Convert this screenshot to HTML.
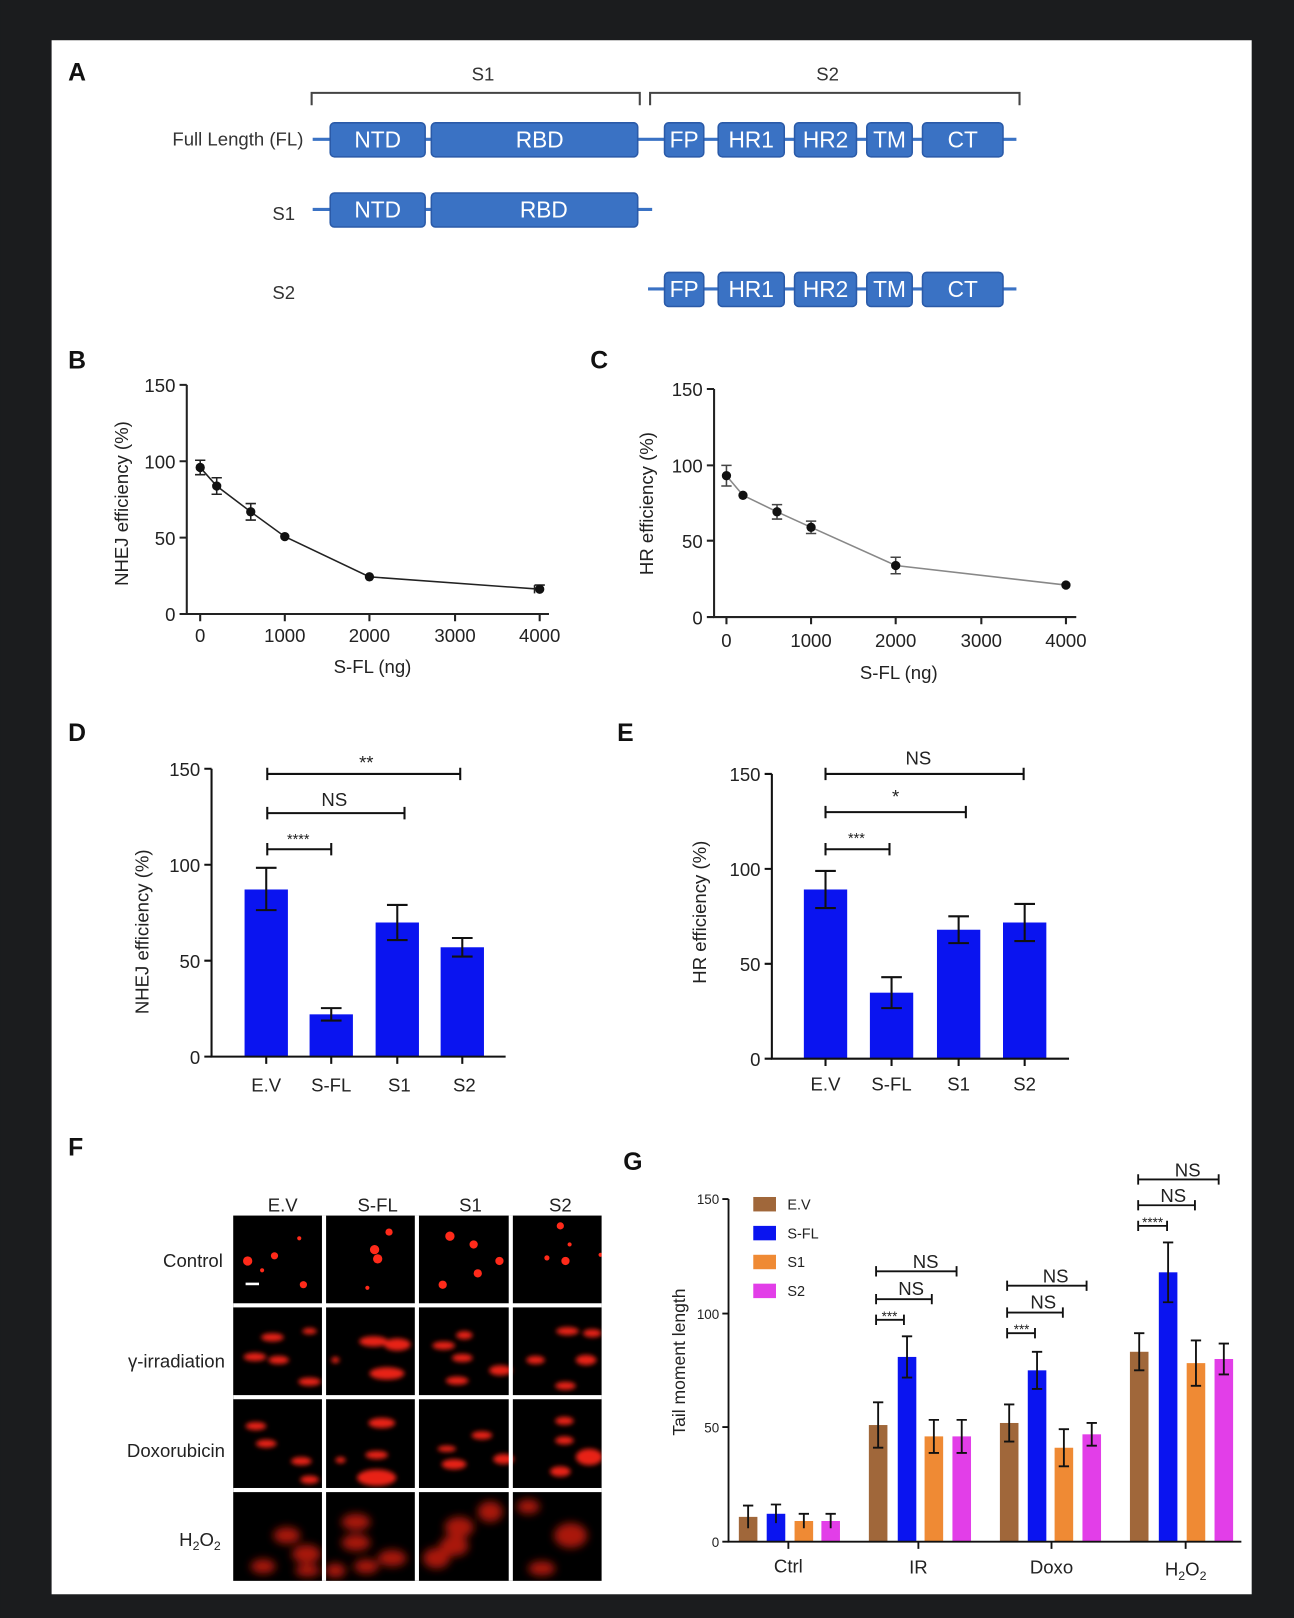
<!DOCTYPE html>
<html><head><meta charset="utf-8"><style>
html,body{margin:0;padding:0;background:#1b1c1e;}
svg{display:block;font-family:"Liberation Sans",Arial,sans-serif;}
</style></head><body>
<svg width="1294" height="1618" viewBox="0 0 1254 1568" xmlns="http://www.w3.org/2000/svg">
<defs>
<filter id="bl" x="-50%" y="-50%" width="200%" height="200%"><feGaussianBlur stdDeviation="2.2"/></filter>
<filter id="bl2" x="-50%" y="-50%" width="200%" height="200%"><feGaussianBlur stdDeviation="4"/></filter>
<clipPath id="gc"><rect x="226" y="1178" width="357" height="354"/></clipPath>
</defs>
<rect x="0" y="0" width="1254" height="1568" fill="#1b1c1e"/>
<rect x="50" y="39" width="1163" height="1506" fill="#fff"/>

<g font-weight="bold" font-size="24" fill="#111">
<text x="66" y="78">A</text><text x="66" y="357">B</text><text x="572" y="357">C</text>
<text x="66" y="718">D</text><text x="598" y="718">E</text><text x="66" y="1120">F</text><text x="604" y="1134">G</text>
</g>

<!-- Panel A -->
<g fill="none" stroke="#444" stroke-width="2">
<path d="M302 102 V90 H620 V102"/><path d="M630 102 V90 H988 V102"/>
</g>
<g font-size="18" fill="#333" text-anchor="middle"><text x="468" y="78">S1</text><text x="802" y="78">S2</text></g>
<g font-size="18" fill="#333" text-anchor="end">
<text x="294" y="141">Full Length (FL)</text><text x="286" y="213">S1</text><text x="286" y="290">S2</text></g>
<g stroke="#3a72c4" stroke-width="3"><line x1="303" y1="135" x2="985" y2="135"/><line x1="303" y1="203" x2="632" y2="203"/><line x1="628" y1="280" x2="985" y2="280"/></g>
<g fill="#3a72c4" stroke="#2a5aa8" stroke-width="1.5">
<rect x="320" y="119" width="92" height="33" rx="4"/><rect x="418" y="119" width="200" height="33" rx="4"/>
<rect x="644" y="119" width="38" height="33" rx="4"/><rect x="696" y="119" width="64" height="33" rx="4"/>
<rect x="770" y="119" width="60" height="33" rx="4"/><rect x="840" y="119" width="44" height="33" rx="4"/><rect x="894" y="119" width="78" height="33" rx="4"/>
<rect x="320" y="187" width="92" height="33" rx="4"/><rect x="418" y="187" width="200" height="33" rx="4"/>
<rect x="644" y="264" width="38" height="33" rx="4"/><rect x="696" y="264" width="64" height="33" rx="4"/>
<rect x="770" y="264" width="60" height="33" rx="4"/><rect x="840" y="264" width="44" height="33" rx="4"/><rect x="894" y="264" width="78" height="33" rx="4"/>
</g>
<g font-size="22" fill="#fff" text-anchor="middle">
<text x="366" y="143">NTD</text><text x="523" y="143">RBD</text><text x="663" y="143">FP</text><text x="728" y="143">HR1</text><text x="800" y="143">HR2</text><text x="862" y="143">TM</text><text x="933" y="143">CT</text>
<text x="366" y="211">NTD</text><text x="527" y="211">RBD</text>
<text x="663" y="288">FP</text><text x="728" y="288">HR1</text><text x="800" y="288">HR2</text><text x="862" y="288">TM</text><text x="933" y="288">CT</text>
</g>

<!-- Panel B -->
<g stroke="#222" stroke-width="2" fill="none">
<path d="M181 373 V595 H532"/>
<path d="M174 373H181M174 447H181M174 521H181M174 595H181"/>
<path d="M194 595V602M276 595V602M358 595V602M441 595V602M523 595V602"/>
</g>
<g font-size="18" fill="#222" text-anchor="end"><text x="170" y="380">150</text><text x="170" y="454">100</text><text x="170" y="528">50</text><text x="170" y="602">0</text></g>
<g font-size="18" fill="#222" text-anchor="middle"><text x="194" y="622">0</text><text x="276" y="622">1000</text><text x="358" y="622">2000</text><text x="441" y="622">3000</text><text x="523" y="622">4000</text>
<text x="361" y="652">S-FL (ng)</text></g>
<text transform="translate(124,488) rotate(-90)" font-size="18" fill="#222" text-anchor="middle">NHEJ efficiency (%)</text>
<polyline points="194,453 210,471 243,496 276,520 358,559 523,571" fill="none" stroke="#222" stroke-width="1.5"/>
<g stroke="#222" stroke-width="1.5"><path d="M194 446V460M189 446H199M189 460H199M210 463V479M205 463H215M205 479H215M243 488V504M238 488H248M238 504H248M358 556V562M518 567V575M528 567H518"/></g>
<g fill="#111"><circle cx="194" cy="453" r="4.5"/><circle cx="210" cy="471" r="4.5"/><circle cx="243" cy="496" r="4.5"/><circle cx="276" cy="520" r="4.5"/><circle cx="358" cy="559" r="4.5"/><circle cx="523" cy="571" r="4.5"/></g>

<!-- Panel C -->
<g stroke="#222" stroke-width="2" fill="none">
<path d="M692 377 V598 H1043"/>
<path d="M685 377H692M685 451H692M685 524H692M685 598H692"/>
<path d="M704 598V605M786 598V605M868 598V605M951 598V605M1033 598V605"/>
</g>
<g font-size="18" fill="#222" text-anchor="end"><text x="681" y="384">150</text><text x="681" y="458">100</text><text x="681" y="531">50</text><text x="681" y="605">0</text></g>
<g font-size="18" fill="#222" text-anchor="middle"><text x="704" y="627">0</text><text x="786" y="627">1000</text><text x="868" y="627">2000</text><text x="951" y="627">3000</text><text x="1033" y="627">4000</text>
<text x="871" y="658">S-FL (ng)</text></g>
<text transform="translate(633,488) rotate(-90)" font-size="18" fill="#222" text-anchor="middle">HR efficiency (%)</text>
<polyline points="704,461 720,480 753,496 786,511 868,548 1033,567" fill="none" stroke="#888" stroke-width="1.5"/>
<g stroke="#444" stroke-width="1.5"><path d="M704 451V471M699 451H709M699 471H709M753 489V503M748 489H758M748 503H758M786 505V517M781 505H791M781 517H791M868 540V556M863 540H873M863 556H873"/></g>
<g fill="#111"><circle cx="704" cy="461" r="4.5"/><circle cx="720" cy="480" r="4.5"/><circle cx="753" cy="496" r="4.5"/><circle cx="786" cy="511" r="4.5"/><circle cx="868" cy="548" r="4.5"/><circle cx="1033" cy="567" r="4.5"/></g>

<!-- Panel D -->
<g fill="#0a14f0"><rect x="237" y="862" width="42" height="162"/><rect x="300" y="983" width="42" height="41"/><rect x="364" y="894" width="42" height="130"/><rect x="427" y="918" width="42" height="106"/></g>
<g stroke="#111" stroke-width="2" fill="none">
<path d="M205 745 V1024 H490"/>
<path d="M198 745H205M198 838H205M198 931H205M198 1024H205"/>
<path d="M258 1024V1031M321 1024V1031M385 1024V1031M448 1024V1031"/>
<path d="M258 841V882M248 841H268M248 882H268M321 977V989M311 977H331M311 989H331M385 877V911M375 877H395M375 911H395M448 909V927M438 909H458M438 927H458"/>
<path d="M259 744V756M259 750H446M446 744V756M259 782V794M259 788H392M392 782V794M259 817V829M259 823H321M321 817V829"/>
</g>
<g font-size="18" fill="#222" text-anchor="end"><text x="194" y="752">150</text><text x="194" y="845">100</text><text x="194" y="938">50</text><text x="194" y="1031">0</text></g>
<g font-size="18" fill="#222" text-anchor="middle"><text x="258" y="1058">E.V</text><text x="321" y="1058">S-FL</text><text x="387" y="1058">S1</text><text x="450" y="1058">S2</text>
<text x="355" y="745">**</text><text x="324" y="781">NS</text><text x="289" y="818" font-size="14">****</text></g>
<text transform="translate(144,903) rotate(-90)" font-size="18" fill="#222" text-anchor="middle">NHEJ efficiency (%)</text>

<!-- Panel E -->
<g fill="#0a14f0"><rect x="779" y="862" width="42" height="164"/><rect x="843" y="962" width="42" height="64"/><rect x="908" y="901" width="42" height="125"/><rect x="972" y="894" width="42" height="132"/></g>
<g stroke="#111" stroke-width="2" fill="none">
<path d="M748 750 V1026 H1036"/>
<path d="M741 750H748M741 842H748M741 934H748M741 1026H748"/>
<path d="M800 1026V1033M864 1026V1033M929 1026V1033M993 1026V1033"/>
<path d="M800 844V880M790 844H810M790 880H810M864 947V977M854 947H874M854 977H874M929 888V914M919 888H939M919 914H939M993 876V912M983 876H1003M983 912H1003"/>
<path d="M800 744V756M800 750H992M992 744V756M800 781V793M800 787H936M936 781V793M800 817V829M800 823H862M862 817V829"/>
</g>
<g font-size="18" fill="#222" text-anchor="end"><text x="737" y="757">150</text><text x="737" y="849">100</text><text x="737" y="941">50</text><text x="737" y="1033">0</text></g>
<g font-size="18" fill="#222" text-anchor="middle"><text x="800" y="1057">E.V</text><text x="864" y="1057">S-FL</text><text x="929" y="1057">S1</text><text x="993" y="1057">S2</text>
<text x="890" y="741">NS</text><text x="868" y="778">*</text><text x="830" y="817" font-size="14">***</text></g>
<text transform="translate(684,884) rotate(-90)" font-size="18" fill="#222" text-anchor="middle">HR efficiency (%)</text>

<!-- Panel F -->
<g font-size="18" fill="#222" text-anchor="middle"><text x="274" y="1174">E.V</text><text x="366" y="1174">S-FL</text><text x="456" y="1174">S1</text><text x="543" y="1174">S2</text></g>
<g font-size="18" fill="#222" text-anchor="end"><text x="216" y="1228">Control</text><text x="218" y="1325">γ-irradiation</text><text x="218" y="1412">Doxorubicin</text><text x="214" y="1498">H<tspan font-size="12" dy="4">2</tspan><tspan dy="-4">O</tspan><tspan font-size="12" dy="4">2</tspan></text></g>
<rect x="226" y="1178" width="357" height="354" fill="#000"/>
<g clip-path="url(#gc)">
<g fill="#ff2a1a">
<circle cx="240" cy="1222" r="4.5"/><circle cx="266" cy="1217" r="3.5"/><circle cx="294" cy="1245" r="3.5"/><circle cx="290" cy="1200" r="2"/><circle cx="254" cy="1231" r="2"/>
<circle cx="363" cy="1211" r="4.5"/><circle cx="366" cy="1220" r="4.5"/><circle cx="377" cy="1194" r="3.5"/><circle cx="356" cy="1248" r="2"/>
<circle cx="436" cy="1198" r="4.5"/><circle cx="459" cy="1206" r="4"/><circle cx="484" cy="1222" r="4"/><circle cx="463" cy="1234" r="4"/><circle cx="429" cy="1245" r="4"/>
<circle cx="543" cy="1188" r="3.5"/><circle cx="548" cy="1222" r="4"/><circle cx="530" cy="1219" r="2.5"/><circle cx="552" cy="1206" r="2"/><circle cx="582" cy="1216" r="2"/>
</g>
<g fill="#e82414" filter="url(#bl)">
<ellipse cx="264" cy="1296" rx="11" ry="4"/><ellipse cx="247" cy="1315" rx="11" ry="4"/><ellipse cx="270" cy="1318" rx="10" ry="4"/><ellipse cx="300" cy="1339" rx="11" ry="4"/><ellipse cx="300" cy="1290" rx="7" ry="3"/>
<ellipse cx="362" cy="1300" rx="14" ry="5"/><ellipse cx="385" cy="1303" rx="13" ry="6"/><ellipse cx="375" cy="1331" rx="17" ry="6"/><ellipse cx="325" cy="1318" rx="4" ry="3"/>
<ellipse cx="430" cy="1304" rx="11" ry="4"/><ellipse cx="450" cy="1294" rx="8" ry="4"/><ellipse cx="448" cy="1316" rx="10" ry="4"/><ellipse cx="443" cy="1338" rx="11" ry="4"/><ellipse cx="485" cy="1328" rx="11" ry="5"/>
<ellipse cx="550" cy="1290" rx="11" ry="4"/><ellipse cx="574" cy="1292" rx="9" ry="4"/><ellipse cx="519" cy="1318" rx="9" ry="4"/><ellipse cx="568" cy="1318" rx="10" ry="5"/><ellipse cx="548" cy="1343" rx="10" ry="4"/>
<ellipse cx="248" cy="1382" rx="10" ry="4"/><ellipse cx="258" cy="1399" rx="10" ry="4"/><ellipse cx="292" cy="1416" rx="10" ry="4"/><ellipse cx="300" cy="1434" rx="9" ry="4"/>
<ellipse cx="370" cy="1379" rx="13" ry="5"/><ellipse cx="365" cy="1410" rx="11" ry="4"/><ellipse cx="365" cy="1432" rx="19" ry="8"/><ellipse cx="330" cy="1415" rx="5" ry="3"/>
<ellipse cx="467" cy="1391" rx="10" ry="4"/><ellipse cx="433" cy="1404" rx="9" ry="3"/><ellipse cx="440" cy="1419" rx="12" ry="5"/><ellipse cx="488" cy="1414" rx="10" ry="5"/>
<ellipse cx="547" cy="1377" rx="9" ry="4"/><ellipse cx="547" cy="1396" rx="9" ry="4"/><ellipse cx="571" cy="1412" rx="13" ry="8"/><ellipse cx="543" cy="1426" rx="10" ry="5"/>
</g>
<g fill="#c81c10" filter="url(#bl2)" opacity="0.85">
<ellipse cx="278" cy="1488" rx="13" ry="8"/><ellipse cx="297" cy="1506" rx="14" ry="9"/><ellipse cx="255" cy="1518" rx="12" ry="7"/><ellipse cx="298" cy="1522" rx="12" ry="6"/>
<ellipse cx="345" cy="1475" rx="14" ry="8"/><ellipse cx="345" cy="1495" rx="14" ry="8"/><ellipse cx="380" cy="1510" rx="14" ry="8"/><ellipse cx="355" cy="1518" rx="12" ry="7"/><ellipse cx="325" cy="1522" rx="10" ry="7"/>
<ellipse cx="445" cy="1480" rx="14" ry="10"/><ellipse cx="440" cy="1498" rx="14" ry="10"/><ellipse cx="423" cy="1510" rx="13" ry="10"/><ellipse cx="475" cy="1465" rx="12" ry="10"/>
<ellipse cx="512" cy="1460" rx="11" ry="7"/><ellipse cx="553" cy="1488" rx="16" ry="12"/><ellipse cx="525" cy="1520" rx="13" ry="7"/>
</g>
</g>
<rect x="238" y="1243" width="13" height="2.5" fill="#fff"/>
<g fill="#fff"><rect x="312" y="1178" width="4" height="354"/><rect x="402" y="1178" width="4" height="354"/><rect x="493" y="1178" width="4" height="354"/>
<rect x="226" y="1263" width="357" height="4"/><rect x="226" y="1352" width="357" height="4"/><rect x="226" y="1442" width="357" height="4"/></g>

<!-- Panel G -->
<g>
<rect x="716" y="1470" width="18" height="24" fill="#a0673a"/><rect x="743" y="1467" width="18" height="27" fill="#0a14f0"/><rect x="770" y="1474" width="18" height="20" fill="#ef8a34"/><rect x="796" y="1474" width="18" height="20" fill="#e23ee8"/>
<rect x="842" y="1381" width="18" height="113" fill="#a0673a"/><rect x="870" y="1315" width="18" height="179" fill="#0a14f0"/><rect x="896" y="1392" width="18" height="102" fill="#ef8a34"/><rect x="923" y="1392" width="18" height="102" fill="#e23ee8"/>
<rect x="969" y="1379" width="18" height="115" fill="#a0673a"/><rect x="996" y="1328" width="18" height="166" fill="#0a14f0"/><rect x="1022" y="1403" width="18" height="91" fill="#ef8a34"/><rect x="1049" y="1390" width="18" height="104" fill="#e23ee8"/>
<rect x="1095" y="1310" width="18" height="184" fill="#a0673a"/><rect x="1123" y="1233" width="18" height="261" fill="#0a14f0"/><rect x="1150" y="1321" width="18" height="173" fill="#ef8a34"/><rect x="1177" y="1317" width="18" height="177" fill="#e23ee8"/>
</g>
<g stroke="#111" stroke-width="1.8" fill="none">
<path d="M725 1459V1481M720 1459H730M752 1458V1476M747 1458H757M779 1467V1481M774 1467H784M805 1467V1481M800 1467H810"/>
<path d="M851 1359V1403M846 1359H856M846 1403H856M879 1295V1335M874 1295H884M874 1335H884M905 1376V1408M900 1376H910M900 1408H910M932 1376V1408M927 1376H937M927 1408H937"/>
<path d="M978 1361V1397M973 1361H983M973 1397H983M1005 1310V1346M1000 1310H1010M1000 1346H1010M1031 1385V1421M1026 1385H1036M1026 1421H1036M1058 1379V1401M1053 1379H1063M1053 1401H1063"/>
<path d="M1104 1292V1328M1099 1292H1109M1099 1328H1109M1132 1204V1262M1127 1204H1137M1127 1262H1137M1159 1299V1343M1154 1299H1164M1154 1343H1164M1186 1302V1332M1181 1302H1191M1181 1332H1191"/>
<path d="M706 1162 V1494 H1203"/>
<path d="M700 1162H706M700 1273H706M700 1383H706M700 1494H706"/>
<path d="M764 1494V1501M890 1494V1501M1019 1494V1501M1149 1494V1501"/>
<path d="M849 1227V1237M849 1232H927M927 1227V1237M849 1254V1264M849 1259H903M903 1254V1264M849 1274V1284M849 1279H876M876 1274V1284"/>
<path d="M976 1241V1251M976 1246H1053M1053 1241V1251M976 1267V1277M976 1272H1030M1030 1267V1277M976 1287V1297M976 1292H1003M1003 1287V1297"/>
<path d="M1103 1138V1148M1103 1143H1181M1181 1138V1148M1103 1163V1173M1103 1168H1158M1158 1163V1173M1103 1183V1193M1103 1188H1131M1131 1183V1193"/>
</g>
<g font-size="13" fill="#222" text-anchor="end"><text x="697" y="1167">150</text><text x="697" y="1278">100</text><text x="697" y="1388">50</text><text x="697" y="1499">0</text></g>
<g font-size="18" fill="#222" text-anchor="middle"><text x="764" y="1524">Ctrl</text><text x="890" y="1525">IR</text><text x="1019" y="1525">Doxo</text>
<text x="1149" y="1527">H<tspan font-size="12" dy="4">2</tspan><tspan dy="-4">O</tspan><tspan font-size="12" dy="4">2</tspan></text>
<text x="897" y="1229">NS</text><text x="883" y="1255">NS</text><text x="862" y="1280" font-size="13">***</text>
<text x="1023" y="1243">NS</text><text x="1011" y="1268">NS</text><text x="990" y="1293" font-size="13">***</text>
<text x="1151" y="1140">NS</text><text x="1137" y="1165">NS</text><text x="1117" y="1189" font-size="13">****</text></g>
<text transform="translate(664,1320) rotate(-90)" font-size="17" fill="#222" text-anchor="middle">Tail moment length</text>
<rect x="730" y="1160" width="22" height="14" fill="#a0673a"/><rect x="730" y="1188" width="22" height="14" fill="#0a14f0"/><rect x="730" y="1216" width="22" height="14" fill="#ef8a34"/><rect x="730" y="1244" width="22" height="14" fill="#e23ee8"/>
<g font-size="14" fill="#222"><text x="763" y="1172">E.V</text><text x="763" y="1200">S-FL</text><text x="763" y="1228">S1</text><text x="763" y="1256">S2</text></g>
</svg>
</body></html>
